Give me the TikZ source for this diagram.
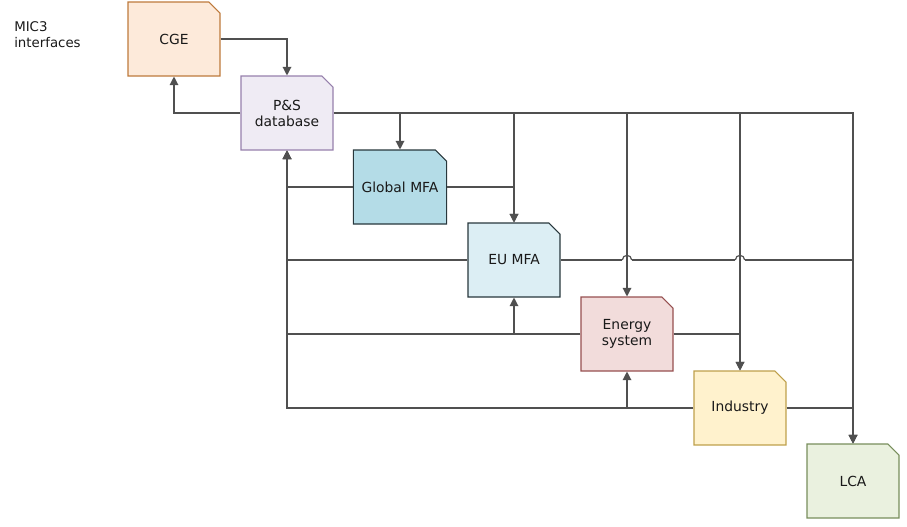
\documentclass[tikz,border=0pt]{standalone}
\usepackage{fontspec}
\setmainfont{DejaVu Sans}
\usepackage{tikz}
\usetikzlibrary{shapes.misc,arrows.meta}
\definecolor{linegray}{RGB}{80,80,80}
\definecolor{txtgray}{RGB}{25,25,25}
\tikzset{
  model/.style={chamfered rectangle, chamfered rectangle corners=north east,
    chamfered rectangle xsep=4.2pt, chamfered rectangle ysep=4.2pt,
    minimum width=69pt, minimum height=55.5pt, inner sep=2pt,
    line width=0.8pt, align=center, text=txtgray,
    font=\fontsize{10.4}{12}\selectfont},
  link/.style={draw=linegray, line width=0.9pt},
  tip/.style={-{Triangle[width=6.5pt,length=6.5pt]}}
}
\begin{document}
\begin{tikzpicture}[x=0.75pt,y=-0.75pt]
\useasboundingbox (0,0) rectangle (907,526);
\node[anchor=north west, align=left, inner sep=0pt, text=txtgray,
  font=\fontsize{10}{12}\selectfont] (title) at (14,21) {MIC3\\interfaces};
\node[model, fill={rgb,255:red,253;green,234;blue,218}, draw={rgb,255:red,190;green,122;blue,60}] (cge) at (174,39) {CGE};
\node[model, fill={rgb,255:red,239;green,235;blue,244}, draw={rgb,255:red,150;green,128;blue,172}] (ps) at (287,113) {P\&S\\database};
\node[model, fill={rgb,255:red,180;green,220;blue,231}, draw={rgb,255:red,40;green,55;blue,60}] (gmfa) at (400,187) {Global MFA};
\node[model, fill={rgb,255:red,220;green,238;blue,244}, draw={rgb,255:red,40;green,55;blue,60}] (eumfa) at (514,260) {EU MFA};
\node[model, fill={rgb,255:red,242;green,220;blue,219}, draw={rgb,255:red,150;green,80;blue,80}] (energy) at (627,334) {Energy\\system};
\node[model, fill={rgb,255:red,255;green,242;blue,205}, draw={rgb,255:red,190;green,160;blue,75}] (industry) at (740,408) {Industry};
\node[model, fill={rgb,255:red,234;green,241;blue,223}, draw={rgb,255:red,120;green,142;blue,92}] (lca) at (853,481) {LCA};

\draw[link,tip] (cge.east) -| (ps.north);
\draw[link,tip] (ps.west) -| (cge.south);
\draw[link,tip] (ps.east) -| (lca.north);
\foreach \n in {gmfa,eumfa,energy,industry}{
	\draw[link,tip] (ps.east -| \n.north) -- (\n.north);
	}
\foreach \n in {gmfa,eumfa,energy,industry}{
	\draw[link,tip] (\n.west) -| (ps.south);
	}
\draw[link,tip] (gmfa.east) -| (eumfa.north);
\draw[link,tip] (energy.west -| eumfa.south) -- (eumfa.south);
\draw[link,tip] (energy.east) -| (industry.north);
\draw[link,tip] (industry.west -| energy.south) -- (energy.south);
\draw[link,tip] (industry.east) -| (lca.north);
\coordinate (jumpa) at (eumfa.east -| energy.north);
\coordinate (jumpb) at (eumfa.east -| industry.north);
\draw[link] (eumfa.east) -- ([xshift=-3.5pt]jumpa);
\draw[link] ([xshift=3.5pt]jumpa) -- ([xshift=-3.5pt]jumpb);
\draw[link,tip] ([xshift=3.5pt]jumpb) -| (lca.north);
\foreach \j in {jumpa,jumpb}{
	\draw[link] ([xshift=-3.5pt]\j) .. controls ([xshift=-3.5pt,yshift=4.6pt]\j) and ([xshift=3.5pt,yshift=4.6pt]\j) .. ([xshift=3.5pt]\j);
	}
\end{tikzpicture}
\end{document}
